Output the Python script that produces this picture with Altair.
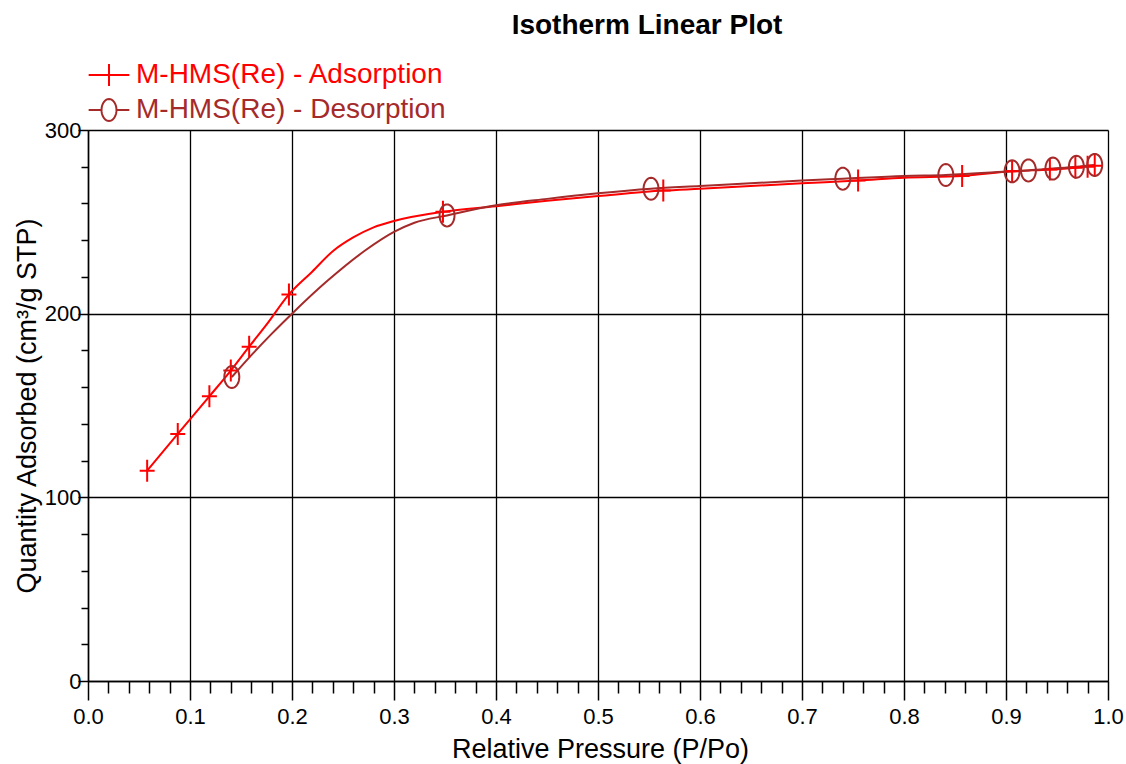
import math

import altair as alt
import pandas as pd

ADS = "M-HMS(Re) - Adsorption"
DES = "M-HMS(Re) - Desorption"
RED = "#FF0000"
BROWN = "#A52A2A"
FONT = "Liberation Sans"

# Measured adsorption points (relative pressure, quantity adsorbed)
ads_mark_p = [0.058, 0.088, 0.119, 0.140, 0.158, 0.197, 0.348, 0.564, 0.755,
              0.857, 0.906, 0.943, 0.968, 0.980, 0.987]
ads_mark_q = [114.5, 134.5, 155.0, 169.0, 182.0, 210.5, 255.5, 267.0, 272.5,
              275.0, 277.5, 278.5, 279.5, 280.0, 280.5]

# Measured desorption points
des_mark_p = [0.987, 0.969, 0.946, 0.922, 0.906, 0.841, 0.740, 0.552, 0.352, 0.141]
des_mark_q = [281.0, 280.0, 279.0, 278.0, 277.5, 275.5, 273.5, 268.0, 253.5, 165.5]

# Isotherm traces
ads_line_p = [0.058, 0.088, 0.119, 0.140, 0.158, 0.175, 0.197, 0.220, 0.240,
              0.260, 0.280, 0.300, 0.348, 0.400, 0.450, 0.500, 0.564, 0.600,
              0.700, 0.755, 0.800, 0.857, 0.906, 0.943, 0.968, 0.987]
ads_line_q = [114.5, 134.5, 155.0, 169.0, 182.0, 194.0, 210.5, 223.0, 234.0,
              241.5, 247.0, 250.5, 255.5, 258.5, 261.5, 264.0, 267.0, 268.0,
              271.0, 272.5, 274.0, 275.0, 277.5, 278.5, 279.5, 280.5]
des_line_p = [0.141, 0.162, 0.180, 0.200, 0.235, 0.272, 0.300, 0.320, 0.352,
              0.400, 0.450, 0.500, 0.552, 0.600, 0.700, 0.740, 0.800, 0.841,
              0.906, 0.922, 0.946, 0.969, 0.987]
des_line_q = [165.5, 178.5, 189.0, 200.0, 218.0, 234.5, 244.5, 249.5, 253.5,
              259.0, 262.5, 265.5, 268.0, 269.5, 272.5, 273.5, 275.0, 275.5,
              277.5, 278.0, 279.0, 280.0, 281.0]

x_ticks = [round(i * 0.02, 2) for i in range(51)]
y_ticks = list(range(0, 301, 20))


def ellipse_path(rx, ry, n=36):
    pts = []
    for k in range(n):
        a = 2 * math.pi * k / n
        pts.append(f"{rx * math.cos(a):.3f},{ry * math.sin(a):.3f}")
    return "M" + "L".join(pts) + "Z"


PLUS = "M-0.68,0H0.68M0,-1V1"
RING = ellipse_path(0.68, 1.0)
LEG_PLUS = "M-1.85,0H1.85M0,-1V1"
LEG_RING = "M-1.85,0H-0.68M0.68,0H1.85" + ellipse_path(0.68, 1.0)

lines = pd.concat([
    pd.DataFrame({"p": ads_line_p, "q": ads_line_q, "series": ADS}),
    pd.DataFrame({"p": des_line_p, "q": des_line_q, "series": DES}),
])
marks = pd.concat([
    pd.DataFrame({"p": ads_mark_p, "q": ads_mark_q, "series": ADS}),
    pd.DataFrame({"p": des_mark_p, "q": des_mark_q, "series": DES}),
])

names = [ADS, DES]
x_major = "abs(datum.value*10 - round(datum.value*10)) < 0.001"
y_major = "datum.value % 100 == 0"

x_axis = alt.Axis(
    values=x_ticks,
    labelExpr=f"{x_major} ? format(datum.value, '.1f') : ''",
    labelFont=FONT, labelFontSize=22, labelColor="black",
    labelFlush=False, labelOverlap=False, labelPadding=6,
    tickColor="black", tickWidth=1.5,
    tickSize={"condition": {"test": x_major, "value": 19}, "value": 12},
    domainColor="black", domainWidth=1.5,
    grid=True, gridColor="black", gridWidth=1.3,
    gridOpacity={"condition": {"test": x_major, "value": 1}, "value": 0},
    title="Relative Pressure (P/Po)", titleFont=FONT, titleFontSize=27,
    titleFontWeight="normal", titleColor="black",
    titleX=512, titleY=76, titleBaseline="alphabetic", titleAlign="center",
)
y_axis = alt.Axis(
    values=y_ticks,
    labelExpr=f"{y_major} ? datum.label : ''",
    labelFont=FONT, labelFontSize=22, labelColor="black",
    labelFlush=False, labelOverlap=False, labelPadding=-3,
    tickColor="black", tickWidth=1.5,
    tickSize={"condition": {"test": y_major, "value": 10}, "value": 7},
    domainColor="black", domainWidth=1.5,
    grid=True, gridColor="black", gridWidth=1.3,
    gridOpacity={"condition": {"test": y_major, "value": 1}, "value": 0},
    title="Quantity Adsorbed (cm³/g STP)", titleFont=FONT, titleFontSize=27,
    titleFontWeight="normal", titleColor="black",
    titleX=-61, titleY=275.5, titleBaseline="middle", titleAlign="center",
    titleAngle=270,
)

x_enc = alt.X("p:Q", scale=alt.Scale(domain=[0, 1], nice=False, zero=False), axis=x_axis)
y_enc = alt.Y("q:Q", scale=alt.Scale(domain=[0, 300], nice=False), axis=y_axis)


def color_enc(legend=None):
    return alt.Color("series:N", scale=alt.Scale(domain=names, range=[RED, BROWN]),
                     legend=legend)


curve_layer = alt.Chart(lines).mark_line(strokeWidth=2, interpolate="monotone").encode(
    x=x_enc, y=y_enc, color=color_enc(),
    order=alt.Order("p:Q"),
)

point_layer = alt.Chart(marks).mark_point(filled=False, strokeWidth=2, size=484, opacity=1).encode(
    x=x_enc, y=y_enc, color=color_enc(),
    shape=alt.Shape("series:N", scale=alt.Scale(domain=names, range=[PLUS, RING]), legend=None),
)

legend = alt.Legend(
    title=None, orient="none", legendX=0, legendY=-69, padding=0,
    direction="vertical",
    labelFont=FONT, labelFontSize=28, labelLimit=600,
    labelColor=alt.ExprRef(expr=f"datum.value === '{ADS}' ? '{RED}' : '{BROWN}'"),
    symbolSize=484, symbolStrokeWidth=2, symbolFillColor="transparent",
    symbolOffset=7, labelOffset=13, rowPadding=5,
)

legend_layer = alt.Chart(marks).transform_filter("false").mark_point(
    filled=False, strokeWidth=2, size=484, opacity=1
).encode(
    x=x_enc, y=y_enc,
    color=color_enc(legend),
    shape=alt.Shape("series:N", scale=alt.Scale(domain=names, range=[LEG_PLUS, LEG_RING]),
                    legend=legend),
)

chart = alt.layer(curve_layer, point_layer, legend_layer).resolve_scale(
    shape="independent", color="independent"
).properties(
    width=1020, height=551,
    title=alt.TitleParams("Isotherm Linear Plot", font=FONT, fontSize=28,
                          fontWeight="bold", color="black", anchor="middle",
                          dx=49, dy=-17),
    autosize=alt.AutoSizeParams(type="none"),
    padding={"left": 88, "top": 130, "right": 18, "bottom": 83},
).configure_view(stroke="black", strokeWidth=1.5).configure(background="white")

chart.save("out.html", embed_options={"renderer": "svg", "actions": False})
